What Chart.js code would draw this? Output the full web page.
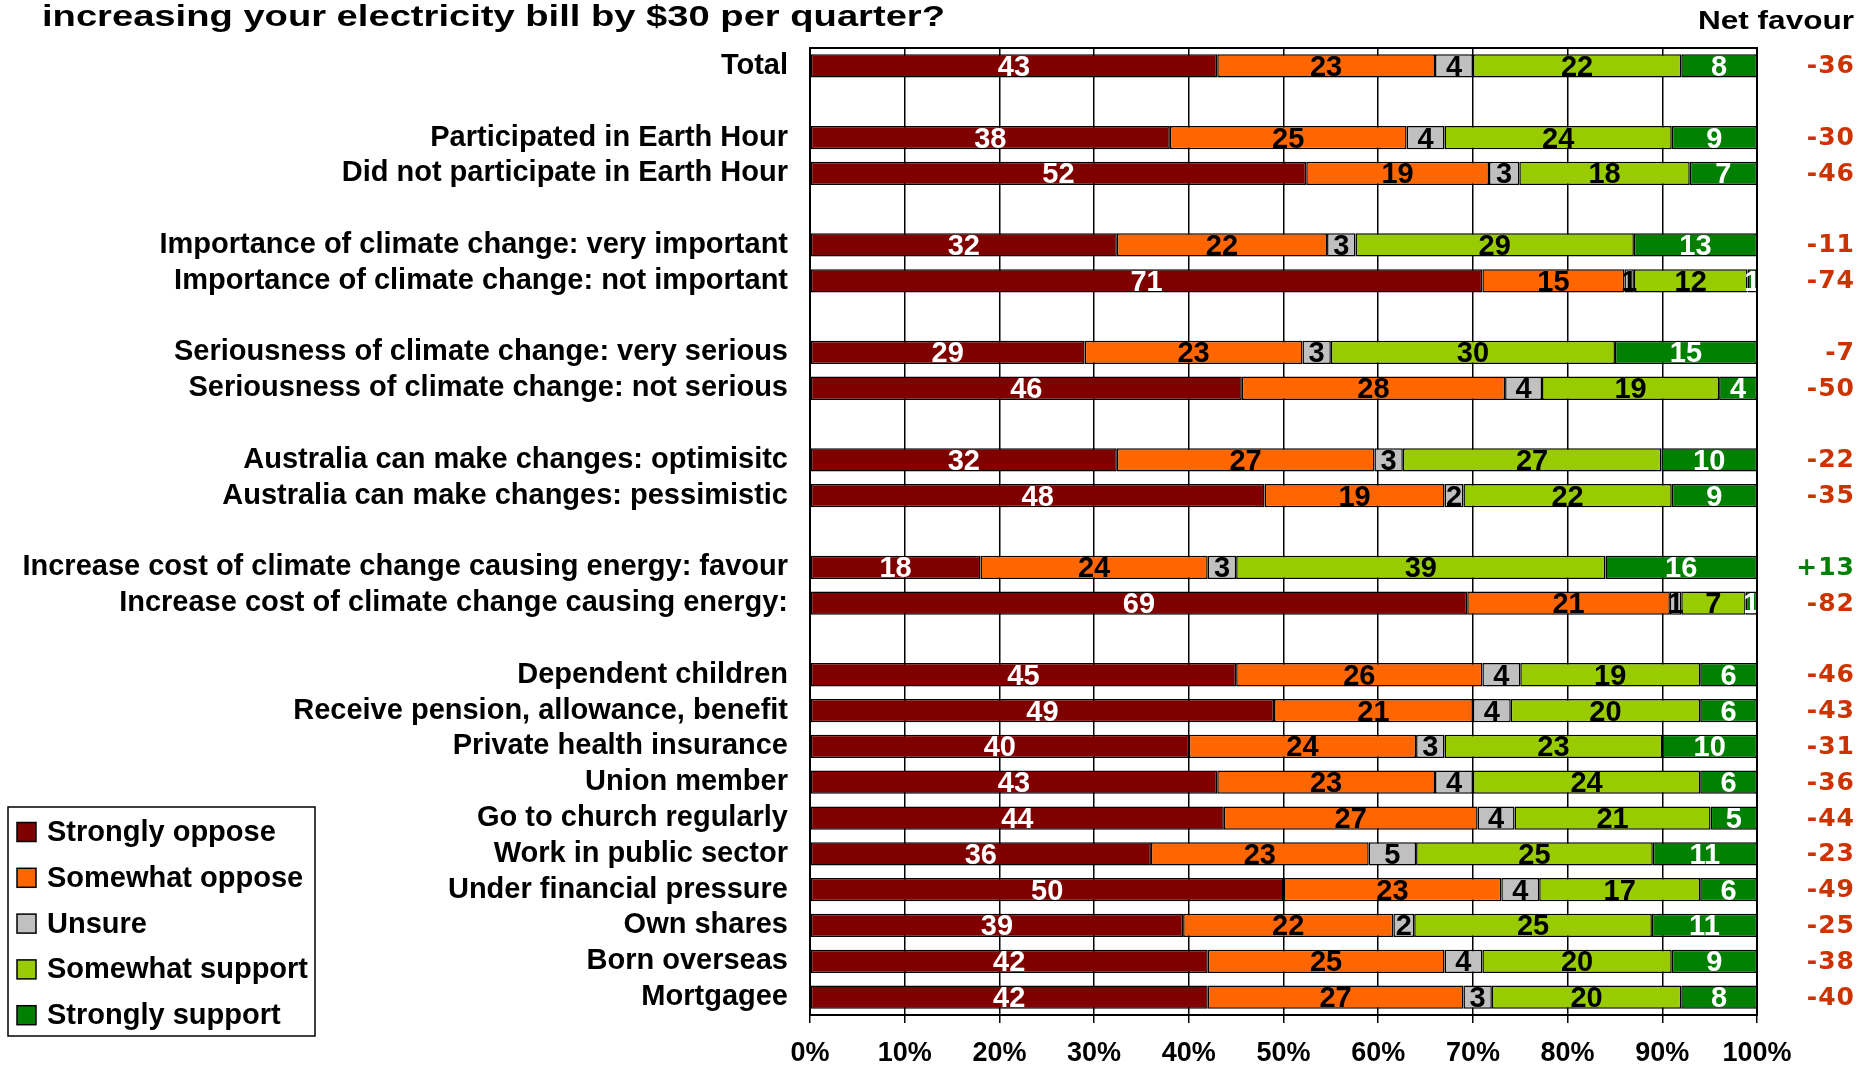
<!DOCTYPE html>
<html><head><meta charset="utf-8">
<script src="https://cdn.jsdelivr.net/npm/chart.js@4.4.1/dist/chart.umd.min.js"></script>
<style>html,body{margin:0;padding:0;background:#fff;overflow:hidden}#wrap{position:relative;width:1875px;height:1065px}</style>
</head><body><div id="wrap"><canvas id="c" width="1875" height="1065"></canvas></div>
<script>
const titleText = 'increasing your electricity bill by $30 per quarter?';
const netHeader = 'Net favour';
const categories = ['Total', '', 'Participated in Earth Hour', 'Did not participate in Earth Hour', '',
  'Importance of climate change: very important', 'Importance of climate change: not important', '',
  'Seriousness of climate change: very serious', 'Seriousness of climate change: not serious', '',
  'Australia can make changes: optimisitc', 'Australia can make changes: pessimistic', '',
  'Increase cost of climate change causing energy: favour', 'Increase cost of climate change causing energy:', '',
  'Dependent children', 'Receive pension, allowance, benefit', 'Private health insurance', 'Union member',
  'Go to church regularly', 'Work in public sector', 'Under financial pressure', 'Own shares', 'Born overseas', 'Mortgagee'];
const seriesNames = ['Strongly oppose', 'Somewhat oppose', 'Unsure', 'Somewhat support', 'Strongly support'];
const stronglyOppose  = [43, null, 38, 52.4, null, 32.4, 71, null, 29, 45.6, null, 32.4, 48, null, 18, 69.4, null, 45, 49, 40, 43, 43.7, 36, 50, 39.4, 42, 42];
const somewhatOppose  = [23, null, 25, 19.3, null, 22.2, 15, null, 23, 27.8, null, 27.2, 19, null, 24, 21.4, null, 26, 21, 24, 23, 26.8, 23, 23, 22.2, 25, 27];
const unsure          = [4, null, 4, 3.2, null, 3.0, 1, null, 3, 3.9, null, 3.0, 2, null, 3, 1.2, null, 4, 4, 3, 4, 3.9, 5, 4, 2.2, 4, 3];
const somewhatSupport = [22, null, 24, 18.0, null, 29.4, 12, null, 30, 18.7, null, 27.3, 22, null, 39, 6.8, null, 19, 20, 23, 24, 20.7, 25, 17, 25.1, 20, 20];
const stronglySupport = [8, null, 9, 7.1, null, 13.0, 1, null, 15, 4.0, null, 10.1, 9, null, 16, 1.2, null, 6, 6, 10, 6, 4.9, 11, 6, 11.1, 9, 8];
const netFavour = ['-36', null, '-30', '-46', null, '-11', '-74', null, '-7', '-50', null, '-22', '-35', null, '+13', '-82', null,
  '-46', '-43', '-31', '-36', '-44', '-23', '-49', '-25', '-38', '-40'];
const xTicks = [0, 10, 20, 30, 40, 50, 60, 70, 80, 90, 100];

const fills = ['#800000', '#FF6600', '#C0C0C0', '#99CC00', '#008000'];
const valueInk = ['#FFFFFF', '#000000', '#000000', '#000000', '#FFFFFF'];
const seriesData = [stronglyOppose, somewhatOppose, unsure, somewhatSupport, stronglySupport];

const decor = {
  id: 'decor',
  beforeDraw(chart) {
    const ctx = chart.ctx;
    ctx.save(); ctx.fillStyle = '#fff'; ctx.fillRect(0, 0, chart.width, chart.height); ctx.restore();
  },
  afterDatasetsDraw(chart) {
    const ctx = chart.ctx;
    ctx.save();
    ctx.font = 'bold 29px "Liberation Sans", Arial, sans-serif';
    ctx.textAlign = 'center';
    ctx.textBaseline = 'middle';
    chart.data.datasets.forEach((ds, di) => {
      const meta = chart.getDatasetMeta(di);
      meta.data.forEach((bar, i) => {
        const v = ds.data[i];
        if (v == null) return;
        ctx.fillStyle = valueInk[di];
        ctx.fillText(String(Math.round(v)), (bar.x + bar.base) / 2, bar.y + 2);
      });
    });
    const a = chart.chartArea;
    ctx.lineWidth = 2; ctx.strokeStyle = '#000';
    ctx.strokeRect(a.left, a.top, a.right - a.left, a.bottom - a.top);
    ctx.restore();
  },
  afterDraw(chart) {
    const ctx = chart.ctx;
    ctx.save();
    ctx.fillStyle = '#000';
    ctx.textBaseline = 'alphabetic';
    ctx.font = 'bold 29px "Liberation Sans", Arial, sans-serif';
    let w = ctx.measureText(titleText).width;
    ctx.save(); ctx.translate(42, 26); ctx.scale(903 / w, 1); ctx.fillText(titleText, 0, 0); ctx.restore();
    ctx.font = 'bold 26px "Liberation Sans", Arial, sans-serif';
    w = ctx.measureText(netHeader).width;
    ctx.save(); ctx.translate(1854 - 156, 29); ctx.scale(156 / w, 1); ctx.fillText(netHeader, 0, 0); ctx.restore();
    const ys = chart.scales.y;
    ctx.font = 'bold 25px "DejaVu Sans", Verdana, sans-serif';
    ctx.letterSpacing = '1px';
    ctx.textAlign = 'right';
    ctx.textBaseline = 'middle';
    netFavour.forEach((t, i) => {
      if (t == null) return;
      ctx.fillStyle = t.startsWith('+') ? '#008000' : '#CC3300';
      ctx.fillText(t, 1855, ys.getPixelForValue(i) + 1);
    });
    ctx.letterSpacing = '0px';
    ctx.textAlign = 'left';
    ctx.lineWidth = 1.5;
    ctx.strokeStyle = '#000';
    ctx.strokeRect(8, 807, 307, 229);
    ctx.font = 'bold 29px "Liberation Sans", Arial, sans-serif';
    chart.data.datasets.forEach((ds, i) => {
      const cy = 832 + i * 45.8;
      ctx.fillStyle = ds.backgroundColor;
      ctx.fillRect(17, cy - 9.5, 19, 19);
      ctx.strokeRect(17, cy - 9.5, 19, 19);
      ctx.fillStyle = '#000';
      ctx.fillText(ds.label, 47, cy + 1);
    });
    ctx.restore();
  }
};

new Chart(document.getElementById('c'), {
  type: 'bar',
  data: {
    labels: categories,
    datasets: seriesNames.map((n, i) => ({
      label: n,
      data: seriesData[i],
      backgroundColor: fills[i],
      borderColor: '#000',
      borderWidth: 1.5,
      borderSkipped: false,
      barPercentage: 0.65,
      categoryPercentage: 1
    }))
  },
  options: {
    indexAxis: 'y',
    responsive: false,
    animation: false,
    devicePixelRatio: 1,
    layout: { padding: { top: 48, right: 118, bottom: 0, left: 0 } },
    plugins: { legend: { display: false }, tooltip: { enabled: false }, title: { display: false } },
    scales: {
      x: {
        stacked: true, min: 0, max: 100,
        afterBuildTicks: s => { s.ticks = xTicks.map(v => ({ value: v })); },
        afterFit: s => { s.height = 50; },
        grid: { color: '#000', lineWidth: 1.5, tickLength: 8, drawTicks: true, tickColor: '#000' },
        border: { display: false },
        ticks: { callback: v => v + '%', color: '#000', padding: 14, font: { family: '"Liberation Sans", Arial, sans-serif', size: 27, weight: 'bold' }, maxRotation: 0, autoSkip: false }
      },
      y: {
        stacked: true,
        afterFit: s => { s.width = 810; },
        grid: { display: false, drawTicks: false },
        border: { display: false },
        ticks: { color: '#000', padding: 22, autoSkip: false, font: { family: '"Liberation Sans", Arial, sans-serif', size: 29, weight: 'bold' } }
      }
    }
  },
  plugins: [decor]
});
</script></body></html>
